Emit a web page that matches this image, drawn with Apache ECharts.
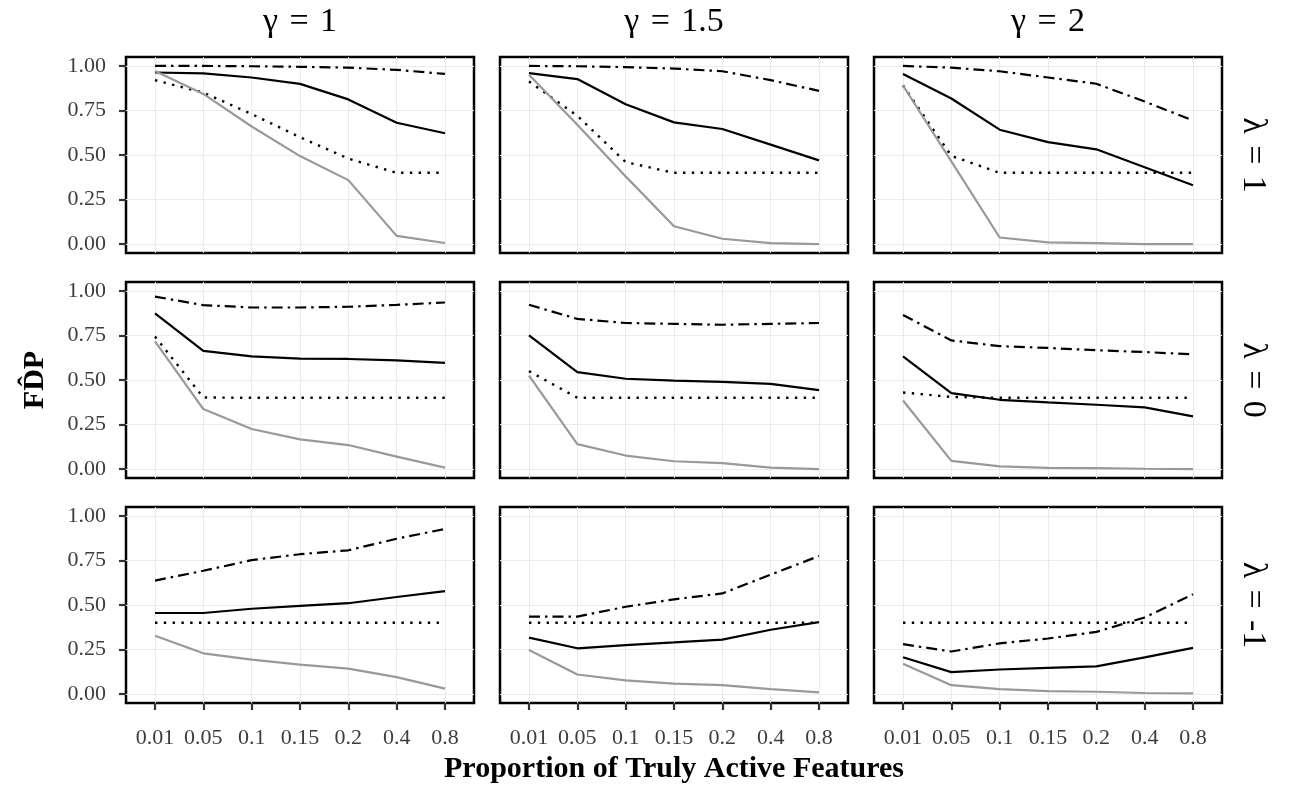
<!DOCTYPE html>
<html><head><meta charset="utf-8">
<script src="https://cdn.jsdelivr.net/npm/echarts@6/dist/echarts.min.js"></script>
<style>html,body{margin:0;padding:0;background:#fff}#c{width:1289px;height:795px}</style>
</head><body><div id="c"></div><script>
const categories = ['0.01','0.05','0.1','0.15','0.2','0.4','0.8'];
const yTicks = [0, 0.25, 0.5, 0.75, 1];
const gammaLabels = ['γ\u2004=\u20041', 'γ\u2004=\u20041.5', 'γ\u2004=\u20042'];
const lambdaLabels = ['λ\u2004=\u20041', 'λ\u2004=\u20040', 'λ\u2004=\u2004-1'];
const xTitle = 'Proportion of Truly Active Features';
const yTitle = 'FD\u0302P';

// λ = 1
const dotdashL1G1 = [1.00, 1.00, 0.998, 0.995, 0.99, 0.978, 0.955];
const solidL1G1   = [0.963, 0.958, 0.935, 0.899, 0.812, 0.681, 0.622];
const dottedL1G1  = [0.92, 0.85, 0.73, 0.60, 0.48, 0.40, 0.40];
const grayL1G1    = [0.972, 0.843, 0.66, 0.494, 0.359, 0.046, 0.006];

const dotdashL1G15 = [1.00, 0.998, 0.993, 0.985, 0.97, 0.92, 0.86];
const solidL1G15   = [0.96, 0.926, 0.785, 0.683, 0.646, 0.558, 0.47];
const dottedL1G15  = [0.913, 0.72, 0.46, 0.40, 0.40, 0.40, 0.40];
const grayL1G15    = [0.95, 0.67, 0.38, 0.10, 0.03, 0.005, 0.0];

const dotdashL1G2 = [1.00, 0.99, 0.97, 0.935, 0.90, 0.80, 0.694];
const solidL1G2   = [0.955, 0.817, 0.642, 0.572, 0.532, 0.431, 0.33];
const dottedL1G2  = [0.89, 0.495, 0.40, 0.40, 0.40, 0.40, 0.40];
const grayL1G2    = [0.89, 0.464, 0.037, 0.01, 0.005, 0.0, 0.0];

// λ = 0
const dotdashL0G1 = [0.968, 0.92, 0.907, 0.907, 0.911, 0.922, 0.935];
const solidL0G1   = [0.874, 0.663, 0.633, 0.62, 0.618, 0.61, 0.596];
const dottedL0G1  = [0.744, 0.402, 0.40, 0.40, 0.40, 0.40, 0.40];
const grayL0G1    = [0.717, 0.337, 0.225, 0.167, 0.135, 0.07, 0.008];

const dotdashL0G15 = [0.922, 0.843, 0.82, 0.815, 0.81, 0.815, 0.82];
const solidL0G15   = [0.75, 0.544, 0.507, 0.496, 0.489, 0.478, 0.443];
const dottedL0G15  = [0.55, 0.40, 0.40, 0.40, 0.40, 0.40, 0.40];
const grayL0G15    = [0.525, 0.14, 0.076, 0.044, 0.033, 0.008, 0.0];

const dotdashL0G2 = [0.865, 0.722, 0.69, 0.68, 0.667, 0.657, 0.644];
const solidL0G2   = [0.633, 0.426, 0.389, 0.374, 0.361, 0.346, 0.296];
const dottedL0G2  = [0.43, 0.405, 0.40, 0.40, 0.40, 0.40, 0.40];
const grayL0G2    = [0.385, 0.046, 0.015, 0.007, 0.005, 0.002, 0.0];

// λ = -1
const dotdashLm1G1 = [0.637, 0.692, 0.752, 0.785, 0.807, 0.872, 0.927];
const solidLm1G1   = [0.455, 0.455, 0.479, 0.495, 0.51, 0.545, 0.578];
const dottedLm1G1  = [0.40, 0.40, 0.40, 0.40, 0.40, 0.40, 0.40];
const grayLm1G1    = [0.327, 0.229, 0.193, 0.165, 0.143, 0.095, 0.031];

const dotdashLm1G15 = [0.435, 0.435, 0.49, 0.532, 0.565, 0.67, 0.775];
const solidLm1G15   = [0.317, 0.257, 0.275, 0.29, 0.306, 0.361, 0.404];
const dottedLm1G15  = [0.40, 0.40, 0.40, 0.40, 0.40, 0.40, 0.40];
const grayLm1G15    = [0.248, 0.11, 0.077, 0.059, 0.05, 0.028, 0.01];

const dotdashLm1G2 = [0.28, 0.239, 0.285, 0.312, 0.349, 0.43, 0.56];
const solidLm1G2   = [0.207, 0.123, 0.138, 0.147, 0.156, 0.206, 0.259];
const dottedLm1G2  = [0.40, 0.40, 0.40, 0.40, 0.40, 0.40, 0.40];
const grayLm1G2    = [0.17, 0.05, 0.028, 0.017, 0.013, 0.006, 0.004];

const panels = [
  [[dotdashL1G1, solidL1G1, dottedL1G1, grayL1G1], [dotdashL1G15, solidL1G15, dottedL1G15, grayL1G15], [dotdashL1G2, solidL1G2, dottedL1G2, grayL1G2]],
  [[dotdashL0G1, solidL0G1, dottedL0G1, grayL0G1], [dotdashL0G15, solidL0G15, dottedL0G15, grayL0G15], [dotdashL0G2, solidL0G2, dottedL0G2, grayL0G2]],
  [[dotdashLm1G1, solidLm1G1, dottedLm1G1, grayLm1G1], [dotdashLm1G15, solidLm1G15, dottedLm1G15, grayLm1G15], [dotdashLm1G2, solidLm1G2, dottedLm1G2, grayLm1G2]]
];

const FONT = 'Liberation Serif';
const lefts = [126, 500, 874];
const tops = [57, 282, 507];
const W = 348, H = 196;
const lineStyles = [
  {color: '#000', width: 2.2, type: [11, 5, 2.5, 5], cap: 'butt'},
  {color: '#000', width: 2.2, type: 'solid'},
  {color: '#000', width: 2.4, type: [2.4, 6.4], cap: 'butt'},
  {color: '#999999', width: 2.2, type: 'solid'}
];

const grid = [], xAxis = [], yAxis = [], series = [];
const xIdx = categories.map((c, i) => i);
for (let r = 0; r < 3; r++) {
  for (let c = 0; c < 3; c++) {
    const k = r * 3 + c;
    grid.push({left: lefts[c], top: tops[r], width: W, height: H, show: true,
      borderColor: '#000', borderWidth: 2.5, backgroundColor: '#fff', containLabel: false});
    const bottomRow = r === 2, leftCol = c === 0;
    xAxis.push({type: 'value', gridIndex: k, min: -0.6, max: 6.6, position: 'bottom',
      axisLine: {show: false, onZero: false},
      axisTick: {show: bottomRow, customValues: xIdx, length: 7, lineStyle: {color: '#333', width: 2.2}},
      axisLabel: {show: bottomRow, customValues: xIdx, formatter: v => categories[Math.round(v)],
        fontFamily: FONT, fontSize: 22, color: '#3d3d3d', margin: 24},
      splitLine: {show: true, lineStyle: {color: '#ebebeb', width: 1}}
    });
    yAxis.push({type: 'value', gridIndex: k, min: -0.05, max: 1.05, position: 'left',
      axisLine: {show: false, onZero: false},
      axisTick: {show: leftCol, customValues: yTicks, length: 7, lineStyle: {color: '#333', width: 2.2}},
      axisLabel: {show: leftCol, customValues: yTicks, formatter: v => v.toFixed(2),
        fontFamily: FONT, fontSize: 22, color: '#3d3d3d', margin: 20},
      splitLine: {show: true, lineStyle: {color: '#ebebeb', width: 1}}
    });
    panels[r][c].forEach((arr, s) => {
      series.push({type: 'line', xAxisIndex: k, yAxisIndex: k, symbol: 'none', silent: true,
        data: arr.map((v, i) => [xIdx[i], v]), lineStyle: lineStyles[s], z: s === 3 ? 3 : 2 + s * 0.1});
    });
  }
}

const graphic = [];
gammaLabels.forEach((t, c) => graphic.push({type: 'text', x: lefts[c] + W / 2, y: 22,
  style: {text: t, font: '34px "Liberation Serif"', fill: '#000', align: 'center', verticalAlign: 'middle'}}));
lambdaLabels.forEach((t, r) => graphic.push({type: 'text', x: 1253, y: tops[r] + H / 2, rotation: -Math.PI / 2,
  style: {text: t, font: '34px "Liberation Serif"', fill: '#000', align: 'center', verticalAlign: 'middle'}}));
graphic.push({type: 'text', x: 35, y: 380, rotation: Math.PI / 2,
  style: {text: yTitle, font: 'bold 30px "Liberation Serif"', fill: '#000', align: 'center', verticalAlign: 'middle'}});
graphic.push({type: 'text', x: lefts[1] + W / 2, y: 769,
  style: {text: xTitle, font: 'bold 30px "Liberation Serif"', fill: '#000', align: 'center', verticalAlign: 'middle'}});

const chart = echarts.init(document.getElementById('c'), null, {renderer: 'canvas'});
chart.setOption({backgroundColor: '#fff', animation: false, grid, xAxis, yAxis, series, graphic});
</script></body></html>
